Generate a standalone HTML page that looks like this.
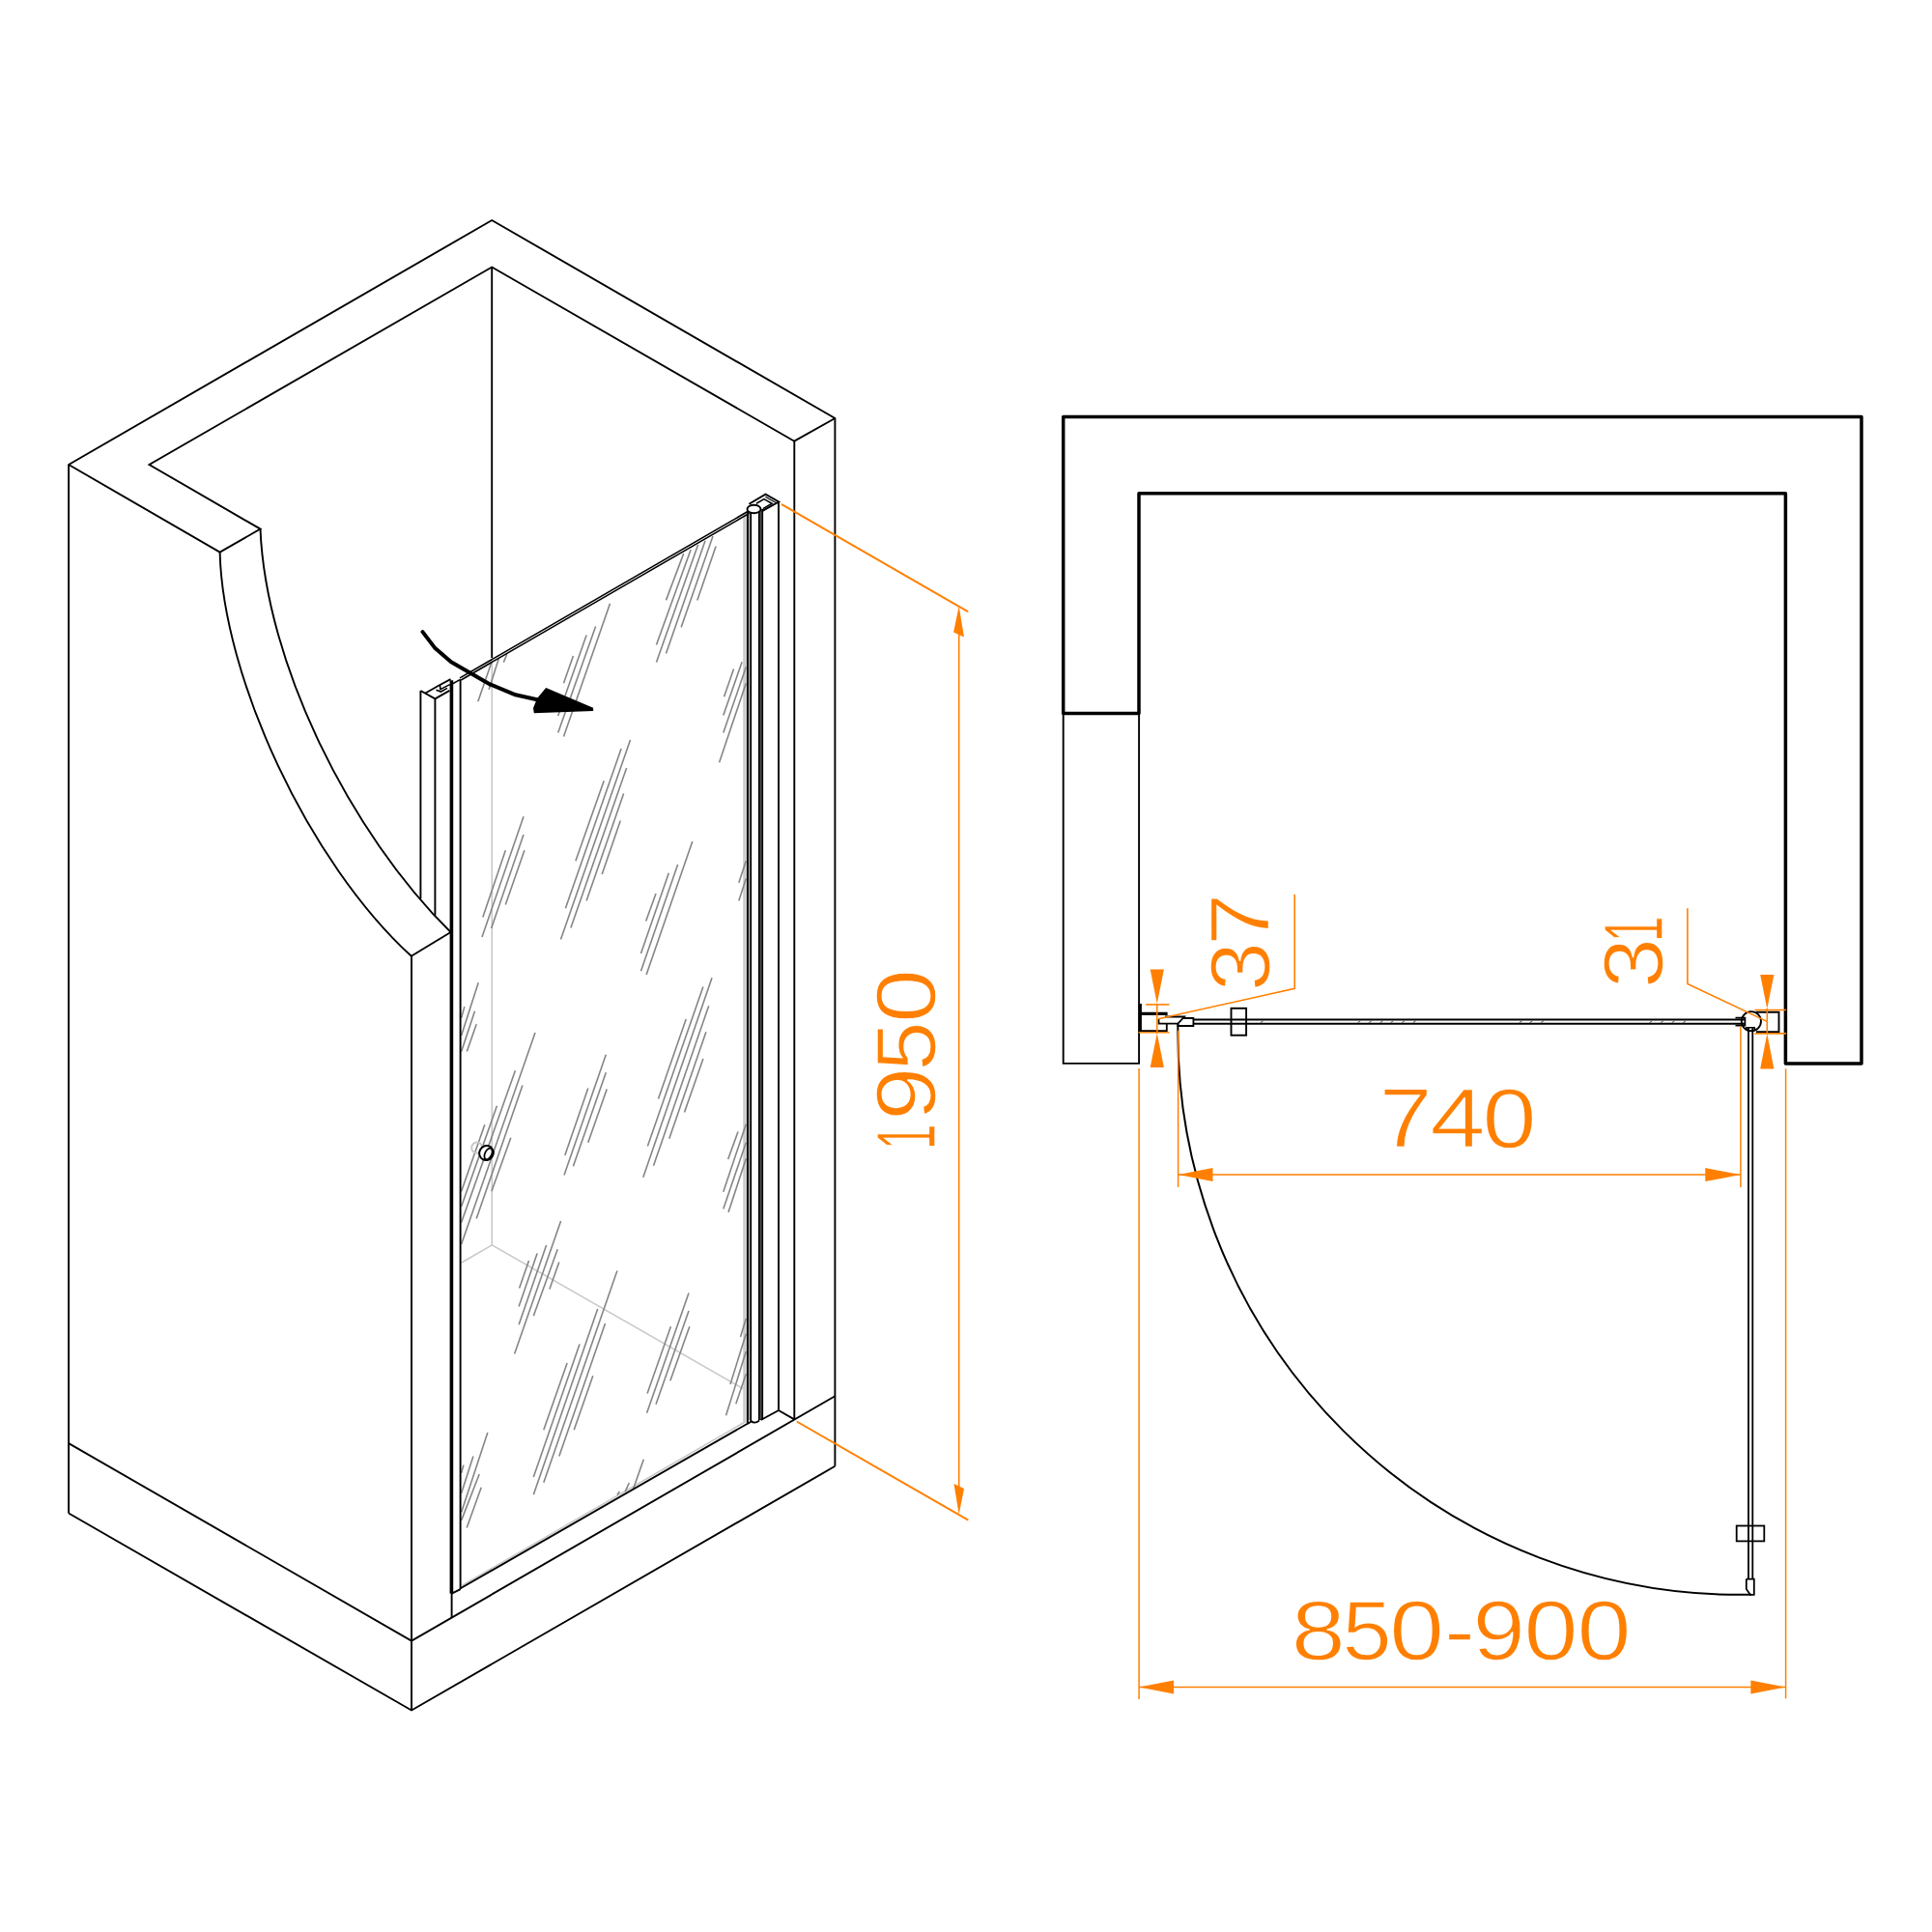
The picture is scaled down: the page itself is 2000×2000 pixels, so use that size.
<!DOCTYPE html>
<html><head><meta charset="utf-8"><style>
html,body{margin:0;padding:0;background:#fff;}
svg{display:block;}
text{font-family:"Liberation Sans",sans-serif;}
</style></head><body>
<svg width="2000" height="2000" viewBox="0 0 2000 2000">
<rect width="2000" height="2000" fill="#fff"/>
<line x1="509.3" y1="681.0" x2="509.3" y2="1288.9" stroke="#c8c8c8" stroke-width="1.6" stroke-linecap="butt"/>
<line x1="509.3" y1="1288.9" x2="477.5" y2="1307.3" stroke="#c8c8c8" stroke-width="1.6" stroke-linecap="butt"/>
<line x1="509.3" y1="1288.9" x2="769.8" y2="1437.9" stroke="#c8c8c8" stroke-width="1.6" stroke-linecap="butt"/>
<line x1="478.0" y1="1641.5" x2="772.0" y2="1471.5" stroke="#c8c8c8" stroke-width="1.6" stroke-linecap="butt"/>
<rect x="769.2" y="531" width="3.7" height="942" fill="#cdcdcd"/>
<line x1="775.8" y1="531.0" x2="775.8" y2="1470.0" stroke="#a0a0a0" stroke-width="1.2" stroke-linecap="butt"/>
<line x1="707.7" y1="573.0" x2="689.5" y2="621.4" stroke="#858585" stroke-width="1.6" stroke-linecap="butt"/>
<line x1="715.1" y1="568.9" x2="679.5" y2="667.4" stroke="#858585" stroke-width="1.6" stroke-linecap="butt"/>
<line x1="722.6" y1="563.9" x2="679.5" y2="685.6" stroke="#858585" stroke-width="1.6" stroke-linecap="butt"/>
<line x1="730.0" y1="559.8" x2="689.5" y2="676.5" stroke="#858585" stroke-width="1.6" stroke-linecap="butt"/>
<line x1="738.0" y1="555.1" x2="705.2" y2="649.2" stroke="#858585" stroke-width="1.6" stroke-linecap="butt"/>
<line x1="741.1" y1="565.5" x2="721.8" y2="621.4" stroke="#858585" stroke-width="1.6" stroke-linecap="butt"/>
<line x1="631.5" y1="624.7" x2="583.5" y2="762.6" stroke="#858585" stroke-width="1.6" stroke-linecap="butt"/>
<line x1="616.6" y1="648.4" x2="577.7" y2="758.5" stroke="#858585" stroke-width="1.6" stroke-linecap="butt"/>
<line x1="607.1" y1="657.5" x2="577.7" y2="741.1" stroke="#858585" stroke-width="1.6" stroke-linecap="butt"/>
<line x1="593.4" y1="679.0" x2="583.5" y2="707.2" stroke="#858585" stroke-width="1.6" stroke-linecap="butt"/>
<line x1="524.7" y1="677.4" x2="521.3" y2="685.6" stroke="#858585" stroke-width="1.6" stroke-linecap="butt"/>
<line x1="516.4" y1="681.5" x2="506.1" y2="713.8" stroke="#858585" stroke-width="1.6" stroke-linecap="butt"/>
<line x1="508.9" y1="685.6" x2="494.8" y2="726.2" stroke="#858585" stroke-width="1.6" stroke-linecap="butt"/>
<line x1="759.5" y1="692.6" x2="749.6" y2="721.2" stroke="#858585" stroke-width="1.6" stroke-linecap="butt"/>
<line x1="768.1" y1="685.3" x2="748.8" y2="740.6" stroke="#858585" stroke-width="1.6" stroke-linecap="butt"/>
<line x1="772.3" y1="690.6" x2="748.8" y2="758.5" stroke="#858585" stroke-width="1.6" stroke-linecap="butt"/>
<line x1="772.3" y1="707.2" x2="744.6" y2="789.2" stroke="#858585" stroke-width="1.6" stroke-linecap="butt"/>
<line x1="652.5" y1="766.0" x2="580.5" y2="972.5" stroke="#858585" stroke-width="1.6" stroke-linecap="butt"/>
<line x1="643.1" y1="775.1" x2="585.4" y2="940.2" stroke="#858585" stroke-width="1.6" stroke-linecap="butt"/>
<line x1="648.6" y1="795.0" x2="590.9" y2="960.6" stroke="#858585" stroke-width="1.6" stroke-linecap="butt"/>
<line x1="625.2" y1="808.2" x2="595.9" y2="891.3" stroke="#858585" stroke-width="1.6" stroke-linecap="butt"/>
<line x1="645.6" y1="821.5" x2="607.1" y2="932.4" stroke="#858585" stroke-width="1.6" stroke-linecap="butt"/>
<line x1="642.3" y1="849.6" x2="623.2" y2="905.1" stroke="#858585" stroke-width="1.6" stroke-linecap="butt"/>
<line x1="542.0" y1="845.3" x2="499.0" y2="970.0" stroke="#858585" stroke-width="1.6" stroke-linecap="butt"/>
<line x1="523.3" y1="880.2" x2="499.8" y2="949.6" stroke="#858585" stroke-width="1.6" stroke-linecap="butt"/>
<line x1="542.0" y1="864.0" x2="508.6" y2="960.9" stroke="#858585" stroke-width="1.6" stroke-linecap="butt"/>
<line x1="542.9" y1="880.2" x2="523.3" y2="936.4" stroke="#858585" stroke-width="1.6" stroke-linecap="butt"/>
<line x1="716.8" y1="871.0" x2="669.1" y2="1008.9" stroke="#858585" stroke-width="1.6" stroke-linecap="butt"/>
<line x1="701.6" y1="895.0" x2="663.5" y2="1005.3" stroke="#858585" stroke-width="1.6" stroke-linecap="butt"/>
<line x1="692.3" y1="903.8" x2="663.5" y2="987.1" stroke="#858585" stroke-width="1.6" stroke-linecap="butt"/>
<line x1="679.0" y1="925.0" x2="668.7" y2="953.5" stroke="#858585" stroke-width="1.6" stroke-linecap="butt"/>
<line x1="772.3" y1="891.3" x2="764.8" y2="913.7" stroke="#858585" stroke-width="1.6" stroke-linecap="butt"/>
<line x1="772.3" y1="909.6" x2="764.8" y2="932.4" stroke="#858585" stroke-width="1.6" stroke-linecap="butt"/>
<line x1="495.2" y1="1017.2" x2="477.6" y2="1071.9" stroke="#858585" stroke-width="1.6" stroke-linecap="butt"/>
<line x1="480.8" y1="1042.1" x2="477.6" y2="1053.7" stroke="#858585" stroke-width="1.6" stroke-linecap="butt"/>
<line x1="491.5" y1="1046.7" x2="477.6" y2="1088.4" stroke="#858585" stroke-width="1.6" stroke-linecap="butt"/>
<line x1="493.2" y1="1060.3" x2="483.3" y2="1088.4" stroke="#858585" stroke-width="1.6" stroke-linecap="butt"/>
<line x1="554.0" y1="1069.1" x2="477.6" y2="1288.0" stroke="#858585" stroke-width="1.6" stroke-linecap="butt"/>
<line x1="533.4" y1="1108.3" x2="477.6" y2="1265.6" stroke="#858585" stroke-width="1.6" stroke-linecap="butt"/>
<line x1="540.9" y1="1123.6" x2="493.2" y2="1261.5" stroke="#858585" stroke-width="1.6" stroke-linecap="butt"/>
<line x1="514.4" y1="1144.8" x2="477.6" y2="1249.0" stroke="#858585" stroke-width="1.6" stroke-linecap="butt"/>
<line x1="501.8" y1="1164.3" x2="477.6" y2="1233.3" stroke="#858585" stroke-width="1.6" stroke-linecap="butt"/>
<line x1="528.8" y1="1177.8" x2="508.9" y2="1233.3" stroke="#858585" stroke-width="1.6" stroke-linecap="butt"/>
<line x1="627.3" y1="1091.8" x2="584.0" y2="1216.4" stroke="#858585" stroke-width="1.6" stroke-linecap="butt"/>
<line x1="608.8" y1="1126.5" x2="584.8" y2="1196.1" stroke="#858585" stroke-width="1.6" stroke-linecap="butt"/>
<line x1="627.3" y1="1110.3" x2="593.4" y2="1207.3" stroke="#858585" stroke-width="1.6" stroke-linecap="butt"/>
<line x1="628.2" y1="1127.4" x2="608.8" y2="1182.8" stroke="#858585" stroke-width="1.6" stroke-linecap="butt"/>
<line x1="737.0" y1="1012.3" x2="665.8" y2="1218.8" stroke="#858585" stroke-width="1.6" stroke-linecap="butt"/>
<line x1="727.9" y1="1021.4" x2="670.4" y2="1186.6" stroke="#858585" stroke-width="1.6" stroke-linecap="butt"/>
<line x1="733.7" y1="1041.2" x2="676.5" y2="1206.8" stroke="#858585" stroke-width="1.6" stroke-linecap="butt"/>
<line x1="730.9" y1="1068.2" x2="692.8" y2="1178.7" stroke="#858585" stroke-width="1.6" stroke-linecap="butt"/>
<line x1="710.2" y1="1055.0" x2="681.5" y2="1137.6" stroke="#858585" stroke-width="1.6" stroke-linecap="butt"/>
<line x1="727.9" y1="1095.9" x2="708.5" y2="1151.4" stroke="#858585" stroke-width="1.6" stroke-linecap="butt"/>
<line x1="764.0" y1="1171.6" x2="753.7" y2="1199.9" stroke="#858585" stroke-width="1.6" stroke-linecap="butt"/>
<line x1="772.3" y1="1163.8" x2="748.8" y2="1233.8" stroke="#858585" stroke-width="1.6" stroke-linecap="butt"/>
<line x1="772.3" y1="1182.8" x2="748.8" y2="1251.6" stroke="#858585" stroke-width="1.6" stroke-linecap="butt"/>
<line x1="772.3" y1="1199.4" x2="754.0" y2="1254.9" stroke="#858585" stroke-width="1.6" stroke-linecap="butt"/>
<line x1="547.5" y1="1305.1" x2="537.6" y2="1333.6" stroke="#858585" stroke-width="1.6" stroke-linecap="butt"/>
<line x1="556.1" y1="1297.6" x2="537.1" y2="1352.6" stroke="#858585" stroke-width="1.6" stroke-linecap="butt"/>
<line x1="565.6" y1="1288.9" x2="537.1" y2="1371.3" stroke="#858585" stroke-width="1.6" stroke-linecap="butt"/>
<line x1="580.6" y1="1264.0" x2="532.6" y2="1401.5" stroke="#858585" stroke-width="1.6" stroke-linecap="butt"/>
<line x1="577.2" y1="1293.3" x2="552.3" y2="1362.2" stroke="#858585" stroke-width="1.6" stroke-linecap="butt"/>
<line x1="578.8" y1="1306.6" x2="568.9" y2="1334.4" stroke="#858585" stroke-width="1.6" stroke-linecap="butt"/>
<line x1="638.9" y1="1315.4" x2="562.8" y2="1534.8" stroke="#858585" stroke-width="1.6" stroke-linecap="butt"/>
<line x1="618.7" y1="1355.1" x2="552.3" y2="1547.3" stroke="#858585" stroke-width="1.6" stroke-linecap="butt"/>
<line x1="626.5" y1="1370.0" x2="578.8" y2="1507.5" stroke="#858585" stroke-width="1.6" stroke-linecap="butt"/>
<line x1="600.0" y1="1391.6" x2="552.3" y2="1529.0" stroke="#858585" stroke-width="1.6" stroke-linecap="butt"/>
<line x1="587.1" y1="1411.1" x2="562.8" y2="1480.2" stroke="#858585" stroke-width="1.6" stroke-linecap="butt"/>
<line x1="613.8" y1="1424.3" x2="594.2" y2="1480.2" stroke="#858585" stroke-width="1.6" stroke-linecap="butt"/>
<line x1="713.0" y1="1338.6" x2="669.6" y2="1462.8" stroke="#858585" stroke-width="1.6" stroke-linecap="butt"/>
<line x1="694.4" y1="1373.3" x2="670.1" y2="1442.4" stroke="#858585" stroke-width="1.6" stroke-linecap="butt"/>
<line x1="713.0" y1="1357.1" x2="679.0" y2="1453.7" stroke="#858585" stroke-width="1.6" stroke-linecap="butt"/>
<line x1="713.8" y1="1373.3" x2="693.9" y2="1429.2" stroke="#858585" stroke-width="1.6" stroke-linecap="butt"/>
<line x1="772.3" y1="1365.0" x2="766.5" y2="1384.1" stroke="#858585" stroke-width="1.6" stroke-linecap="butt"/>
<line x1="772.3" y1="1380.8" x2="756.0" y2="1433.0" stroke="#858585" stroke-width="1.6" stroke-linecap="butt"/>
<line x1="772.3" y1="1399.0" x2="751.6" y2="1465.3" stroke="#858585" stroke-width="1.6" stroke-linecap="butt"/>
<line x1="772.3" y1="1422.2" x2="761.8" y2="1453.3" stroke="#858585" stroke-width="1.6" stroke-linecap="butt"/>
<line x1="504.8" y1="1483.0" x2="477.6" y2="1565.6" stroke="#858585" stroke-width="1.6" stroke-linecap="butt"/>
<line x1="489.9" y1="1507.5" x2="477.6" y2="1545.8" stroke="#858585" stroke-width="1.6" stroke-linecap="butt"/>
<line x1="496.2" y1="1526.0" x2="477.6" y2="1573.9" stroke="#858585" stroke-width="1.6" stroke-linecap="butt"/>
<line x1="498.2" y1="1539.8" x2="483.2" y2="1581.4" stroke="#858585" stroke-width="1.6" stroke-linecap="butt"/>
<line x1="479.9" y1="1516.6" x2="477.6" y2="1524.9" stroke="#858585" stroke-width="1.6" stroke-linecap="butt"/>
<line x1="666.3" y1="1510.8" x2="655.5" y2="1541.5" stroke="#858585" stroke-width="1.6" stroke-linecap="butt"/>
<line x1="651.3" y1="1535.0" x2="647.2" y2="1544.1" stroke="#858585" stroke-width="1.6" stroke-linecap="butt"/>
<line x1="641.4" y1="1544.1" x2="638.9" y2="1547.4" stroke="#858585" stroke-width="1.6" stroke-linecap="butt"/>
<path d="M71.1,1566.5 L71.1,481.0 L509.2,228.0 L864.4,433.0 L864.4,1517.8" fill="none" stroke="#000" stroke-width="1.9" stroke-linejoin="miter"/>
<path d="M71.1,481.0 L227.6,571.6 L269.5,547.6 L154.5,481.0 L509.2,276.5 L822.3,456.7 L864.4,433.0" fill="none" stroke="#000" stroke-width="1.9" stroke-linejoin="miter"/>
<line x1="509.2" y1="276.5" x2="509.2" y2="681.0" stroke="#000" stroke-width="1.9" stroke-linecap="butt"/>
<line x1="822.3" y1="456.7" x2="822.3" y2="1469.4" stroke="#000" stroke-width="1.9" stroke-linecap="butt"/>
<path d="M71.1,1494.1 L426.0,1698.6 L864.4,1445.3" fill="none" stroke="#000" stroke-width="1.9" stroke-linejoin="miter"/>
<path d="M71.1,1566.5 L426.0,1770.5 L864.4,1517.8" fill="none" stroke="#000" stroke-width="1.9" stroke-linejoin="miter"/>
<line x1="426.0" y1="989.8" x2="426.0" y2="1770.5" stroke="#000" stroke-width="1.9" stroke-linecap="butt"/>
<path d="M227.6,571.6 C230.7,700.9 319.1,892.2 425.8,989.8" fill="none" stroke="#000" stroke-width="1.9"/>
<path d="M269.5,547.6 C275.2,686.6 362.3,862.1 466.6,965.0" fill="none" stroke="#000" stroke-width="1.9"/>
<line x1="425.8" y1="989.8" x2="466.6" y2="965.0" stroke="#000" stroke-width="1.9" stroke-linecap="butt"/>
<line x1="435.4" y1="715.0" x2="435.4" y2="930.5" stroke="#000" stroke-width="1.9" stroke-linecap="butt"/>
<line x1="450.4" y1="723.3" x2="450.4" y2="947.5" stroke="#000" stroke-width="1.9" stroke-linecap="butt"/>
<path d="M435.4,715.0 L450.4,723.3 L465.4,714.8" fill="none" stroke="#000" stroke-width="1.9" stroke-linejoin="miter"/>
<path d="M440.4,717.5 L455.4,709.0 L466.5,703.2" fill="none" stroke="#000" stroke-width="1.9" stroke-linejoin="miter"/>
<path d="M455.4,709.0 L455.9,713.6 L465.5,708.6" fill="none" stroke="#000" stroke-width="1.6" stroke-linejoin="miter"/>
<path d="M451.5,714.2 L456.4,716.0 L463.0,712.4" fill="none" stroke="#000" stroke-width="1.6" stroke-linejoin="miter"/>
<line x1="467.4" y1="704.3" x2="467.4" y2="1649.7" stroke="#000" stroke-width="3.6" stroke-linecap="butt"/>
<line x1="467.6" y1="1649.7" x2="467.6" y2="1674.5" stroke="#000" stroke-width="1.9" stroke-linecap="butt"/>
<line x1="476.6" y1="703.6" x2="476.6" y2="1645.1" stroke="#000" stroke-width="1.9" stroke-linecap="butt"/>
<line x1="467.6" y1="1649.7" x2="476.7" y2="1645.1" stroke="#000" stroke-width="1.9" stroke-linecap="butt"/>
<line x1="476.7" y1="1644.3" x2="774.7" y2="1473.2" stroke="#000" stroke-width="1.9" stroke-linecap="butt"/>
<line x1="477.2" y1="704.0" x2="775.6" y2="531.4" stroke="#000" stroke-width="1.6" stroke-linecap="butt"/>
<line x1="476.0" y1="701.9" x2="774.4" y2="529.3" stroke="#000" stroke-width="1.6" stroke-linecap="butt"/>
<line x1="465.5" y1="709.5" x2="476.6" y2="703.4" stroke="#000" stroke-width="1.6" stroke-linecap="butt"/>
<circle cx="493.8" cy="1188.2" r="5.6" fill="none" stroke="#c8c8c8" stroke-width="2"/>
<ellipse cx="503.5" cy="1193.5" rx="7.2" ry="7.6" transform="rotate(30 503.5 1193.5)" fill="#fff" stroke="#000" stroke-width="2"/>
<ellipse cx="505.5" cy="1194.5" rx="3.5" ry="6.2" transform="rotate(25 505.5 1194.5)" fill="none" stroke="#000" stroke-width="1.8"/>
<line x1="774.0" y1="528.5" x2="774.0" y2="1473.2" stroke="#000" stroke-width="1.9" stroke-linecap="butt"/>
<line x1="777.2" y1="531.0" x2="777.2" y2="1471.5" stroke="#000" stroke-width="1.8" stroke-linecap="butt"/>
<rect x="786.6" y="527" width="2" height="943" fill="#4a4a4a"/>
<line x1="785.9" y1="527.0" x2="785.9" y2="1470.0" stroke="#000" stroke-width="1.8" stroke-linecap="butt"/>
<line x1="789.2" y1="527.0" x2="789.2" y2="1470.0" stroke="#000" stroke-width="1.8" stroke-linecap="butt"/>
<line x1="806.0" y1="519.5" x2="806.0" y2="1460.0" stroke="#000" stroke-width="1.9" stroke-linecap="butt"/>
<line x1="806.0" y1="1460.0" x2="822.3" y2="1469.4" stroke="#000" stroke-width="1.9" stroke-linecap="butt"/>
<line x1="787.6" y1="1470.0" x2="806.0" y2="1460.0" stroke="#000" stroke-width="1.9" stroke-linecap="butt"/>
<line x1="774.2" y1="1473.8" x2="777.4" y2="1471.8" stroke="#000" stroke-width="1.9" stroke-linecap="butt"/>
<path d="M777.3,1471 Q781.3,1474.6 786.2,1470.4" fill="none" stroke="#000" stroke-width="1.8"/>
<path d="M775.4,521.7 L792.5,511.7 L806.2,519.5 L789.3,528.8" fill="none" stroke="#000" stroke-width="1.9" stroke-linejoin="miter"/>
<path d="M792.3,514.3 L804.2,521.0" fill="none" stroke="#000" stroke-width="1.3" stroke-linejoin="miter"/>
<path d="M783.0,521.2 L790.9,516.6 L799.2,521.3 L789.8,526.6" fill="none" stroke="#000" stroke-width="1.6" stroke-linejoin="miter"/>
<ellipse cx="780.5" cy="527" rx="7" ry="4.3" fill="#fff" stroke="#000" stroke-width="1.9"/>
<path d="M437.5,654.1 L449.9,670.4 L467,685.2 L507.3,708.4 L533.7,719.3 L556,724.3" fill="none" stroke="#000" stroke-width="4" stroke-linecap="round" stroke-linejoin="round"/>
<path d="M565.2,712.1 L614.1,732.8 L614.1,736.1 L552.8,738.3 L552.0,733.0 L556.0,723.0 Z" fill="#000" stroke="none"/>
<line x1="809.7" y1="522.3" x2="1001.5" y2="632.8" stroke="#ff8000" stroke-width="2" stroke-linecap="round"/>
<line x1="825.6" y1="1472.0" x2="1001.5" y2="1573.2" stroke="#ff8000" stroke-width="2" stroke-linecap="round"/>
<line x1="992.7" y1="640.0" x2="992.7" y2="1555.0" stroke="#ff8000" stroke-width="1.6" stroke-linecap="butt"/>
<path d="M992.7,627.4 L998.0,659.6 L987.1,654.5 Z" fill="#ff8000" stroke="none"/>
<path d="M992.7,1567.7 L987.5,1535.9 L998.0,1540.9 Z" fill="#ff8000" stroke="none"/>
<path d="M1100.7,738.5 L1100.7,431.5 L1927.0,431.5 L1927.0,1101.0 L1848.4,1101.0 L1848.4,510.7 L1179.0,510.7 L1179.0,738.5 L1100.7,738.5 Z" fill="none" stroke="#000" stroke-width="3.5" stroke-linejoin="round"/>
<path d="M1100.7,738.5 L1100.7,1100.9 L1179.1,1100.9 L1179.1,738.5" fill="none" stroke="#000" stroke-width="1.9" stroke-linejoin="miter"/>
<path d="M1208.6,1049.3 L1180.3,1049.3 L1180.3,1039.1 L1180.3,1068.0" fill="none" stroke="#000" stroke-width="3.2" stroke-linejoin="miter"/>
<path d="M1180.3,1067.2 L1207.8,1067.2 L1207.8,1059.0" fill="none" stroke="#000" stroke-width="1.8" stroke-linejoin="miter"/>
<path d="M1199.5,1055.0 L1199.5,1059.6 L1219.4,1059.6 L1226.0,1052.5 L1206.0,1052.5" fill="none" stroke="#000" stroke-width="1.8" stroke-linejoin="miter"/>
<path d="M1219.4,1059.6 L1219.4,1062.0 L1235.4,1062.0 L1235.4,1054.0 L1224.0,1054.0" fill="none" stroke="#000" stroke-width="1.8" stroke-linejoin="miter"/>
<line x1="1235.4" y1="1055.5" x2="1806.4" y2="1055.5" stroke="#000" stroke-width="2.0" stroke-linecap="butt"/>
<line x1="1235.4" y1="1059.8" x2="1806.4" y2="1059.8" stroke="#000" stroke-width="2.0" stroke-linecap="butt"/>
<line x1="1307.7" y1="1056.4" x2="1304.9" y2="1058.9" stroke="#666" stroke-width="1.1" stroke-linecap="butt"/>
<line x1="1408.4" y1="1056.4" x2="1405.6" y2="1058.9" stroke="#666" stroke-width="1.1" stroke-linecap="butt"/>
<line x1="1420.0" y1="1056.4" x2="1417.2" y2="1058.9" stroke="#666" stroke-width="1.1" stroke-linecap="butt"/>
<line x1="1431.6" y1="1056.4" x2="1428.8" y2="1058.9" stroke="#666" stroke-width="1.1" stroke-linecap="butt"/>
<line x1="1442.5" y1="1056.4" x2="1439.7" y2="1058.9" stroke="#666" stroke-width="1.1" stroke-linecap="butt"/>
<line x1="1454.1" y1="1056.4" x2="1451.3" y2="1058.9" stroke="#666" stroke-width="1.1" stroke-linecap="butt"/>
<line x1="1465.7" y1="1056.4" x2="1462.9" y2="1058.9" stroke="#666" stroke-width="1.1" stroke-linecap="butt"/>
<line x1="1575.7" y1="1056.4" x2="1572.9" y2="1058.9" stroke="#666" stroke-width="1.1" stroke-linecap="butt"/>
<line x1="1586.5" y1="1056.4" x2="1583.7" y2="1058.9" stroke="#666" stroke-width="1.1" stroke-linecap="butt"/>
<line x1="1598.1" y1="1056.4" x2="1595.3" y2="1058.9" stroke="#666" stroke-width="1.1" stroke-linecap="butt"/>
<line x1="1710.4" y1="1056.4" x2="1707.6" y2="1058.9" stroke="#666" stroke-width="1.1" stroke-linecap="butt"/>
<line x1="1722.0" y1="1056.4" x2="1719.2" y2="1058.9" stroke="#666" stroke-width="1.1" stroke-linecap="butt"/>
<line x1="1733.6" y1="1056.4" x2="1730.8" y2="1058.9" stroke="#666" stroke-width="1.1" stroke-linecap="butt"/>
<line x1="1745.2" y1="1056.4" x2="1742.4" y2="1058.9" stroke="#666" stroke-width="1.1" stroke-linecap="butt"/>
<rect x="1274.5" y="1043.8" width="15.6" height="27.9" fill="none" stroke="#000" stroke-width="1.9"/>
<circle cx="1812.9" cy="1057.2" r="10.1" fill="none" stroke="#000" stroke-width="1.9"/>
<path d="M1818.0,1047.8 L1841.5,1047.8 L1841.5,1068.1 L1818.0,1068.1" fill="none" stroke="#000" stroke-width="1.9" stroke-linejoin="miter"/>
<path d="M1796.5,1053.6 L1806.4,1053.6 L1806.4,1061.6 L1796.5,1061.6" fill="none" stroke="#000" stroke-width="1.8" stroke-linejoin="miter"/>
<line x1="1810.0" y1="1063.5" x2="1810.0" y2="1634.6" stroke="#000" stroke-width="1.8" stroke-linecap="butt"/>
<line x1="1814.3" y1="1063.5" x2="1814.3" y2="1634.6" stroke="#000" stroke-width="1.8" stroke-linecap="butt"/>
<path d="M1807.8,1066.0 L1807.8,1063.8 L1816.3,1063.8 L1816.3,1066.0" fill="none" stroke="#000" stroke-width="1.6" stroke-linejoin="miter"/>
<rect x="1797.7" y="1579.5" width="28.6" height="15.9" fill="none" stroke="#000" stroke-width="1.8"/>
<path d="M1807.8,1634.6 L1815.8,1634.6 L1815.8,1650.9 L1812.0,1650.9 L1807.8,1645.0 L1807.8,1634.6" fill="none" stroke="#000" stroke-width="1.8" stroke-linejoin="miter"/>
<path d="M1219.4,1060.1 A582,582 0 0 0 1813,1650.7" fill="none" stroke="#000" stroke-width="2"/>
<path d="M1197.8,1039.1 L1190.7,1003.6 L1204.9,1003.6 Z" fill="#ff8000" stroke="none"/>
<path d="M1197.8,1069.6 L1190.7,1105.1 L1204.9,1105.1 Z" fill="#ff8000" stroke="none"/>
<line x1="1197.8" y1="1039.0" x2="1197.8" y2="1070.0" stroke="#ff8000" stroke-width="1.5" stroke-linecap="butt"/>
<line x1="1186.1" y1="1039.9" x2="1210.4" y2="1039.9" stroke="#ff8000" stroke-width="1.6" stroke-linecap="butt"/>
<line x1="1178.5" y1="1068.8" x2="1210.4" y2="1068.8" stroke="#ff8000" stroke-width="1.6" stroke-linecap="butt"/>
<path d="M1199.1,1054.7 L1340.2,1023.4 L1340.2,926.1" fill="none" stroke="#ff8000" stroke-width="1.6" stroke-linejoin="miter"/>
<path d="M1829.3,1044.2 L1822.2,1009.1 L1836.4,1009.1 Z" fill="#ff8000" stroke="none"/>
<path d="M1829.3,1069.9 L1822.2,1106.5 L1836.4,1106.5 Z" fill="#ff8000" stroke="none"/>
<line x1="1829.3" y1="1044.0" x2="1829.3" y2="1070.0" stroke="#ff8000" stroke-width="1.5" stroke-linecap="butt"/>
<line x1="1816.5" y1="1045.5" x2="1849.1" y2="1045.5" stroke="#ff8000" stroke-width="1.6" stroke-linecap="butt"/>
<line x1="1816.5" y1="1069.9" x2="1849.1" y2="1069.9" stroke="#ff8000" stroke-width="1.6" stroke-linecap="butt"/>
<path d="M1746.9,940.2 L1746.9,1018.5 L1829.6,1057.6" fill="none" stroke="#ff8000" stroke-width="1.6" stroke-linejoin="miter"/>
<line x1="1219.6" y1="1066.7" x2="1219.6" y2="1228.9" stroke="#ff8000" stroke-width="1.5" stroke-linecap="butt"/>
<line x1="1801.9" y1="1062.3" x2="1801.9" y2="1228.9" stroke="#ff8000" stroke-width="1.5" stroke-linecap="butt"/>
<line x1="1219.6" y1="1216.1" x2="1801.9" y2="1216.1" stroke="#ff8000" stroke-width="1.5" stroke-linecap="butt"/>
<path d="M1219.6,1216.1 L1255.5,1209.1 L1255.5,1223.1 Z" fill="#ff8000" stroke="none"/>
<path d="M1801.9,1216.1 L1765.3,1209.1 L1765.3,1223.1 Z" fill="#ff8000" stroke="none"/>
<line x1="1179.1" y1="1106.1" x2="1179.1" y2="1759.0" stroke="#ff8000" stroke-width="1.5" stroke-linecap="butt"/>
<line x1="1848.6" y1="1106.2" x2="1848.6" y2="1758.2" stroke="#ff8000" stroke-width="1.5" stroke-linecap="butt"/>
<line x1="1179.1" y1="1746.5" x2="1848.6" y2="1746.5" stroke="#ff8000" stroke-width="1.5" stroke-linecap="butt"/>
<path d="M1179.1,1746.5 L1215.0,1739.5 L1215.0,1753.5 Z" fill="#ff8000" stroke="none"/>
<path d="M1848.6,1746.5 L1812.4,1739.5 L1812.4,1753.5 Z" fill="#ff8000" stroke="none"/>
<text x="0" y="0" transform="translate(1336.67 1718.10) scale(1.1646 1)" font-family="Liberation Sans" font-size="86.4" fill="#ff8000" stroke="#fff" stroke-width="1.3">8</text>
<text x="0" y="0" transform="translate(1389.52 1718.10) scale(1.0665 1)" font-family="Liberation Sans" font-size="86.4" fill="#ff8000" stroke="#fff" stroke-width="1.3">5</text>
<text x="0" y="0" transform="translate(1438.35 1718.10) scale(1.1800 1)" font-family="Liberation Sans" font-size="86.4" fill="#ff8000" stroke="#fff" stroke-width="1.3">0</text>
<text x="0" y="0" transform="translate(1495.18 1718.10) scale(1.0963 1)" font-family="Liberation Sans" font-size="86.4" fill="#ff8000" stroke="#fff" stroke-width="1.3">-</text>
<text x="0" y="0" transform="translate(1524.38 1718.10) scale(1.1318 1)" font-family="Liberation Sans" font-size="86.4" fill="#ff8000" stroke="#fff" stroke-width="1.3">9</text>
<text x="0" y="0" transform="translate(1577.60 1718.10) scale(1.1675 1)" font-family="Liberation Sans" font-size="86.4" fill="#ff8000" stroke="#fff" stroke-width="1.3">0</text>
<text x="0" y="0" transform="translate(1632.60 1718.10) scale(1.1675 1)" font-family="Liberation Sans" font-size="86.4" fill="#ff8000" stroke="#fff" stroke-width="1.3">0</text>
<text x="0" y="0" transform="translate(1427.72 1188.45) scale(1.1267 1)" font-family="Liberation Sans" font-size="87.4" fill="#ff8000" stroke="#fff" stroke-width="1.3">7</text>
<text x="0" y="0" transform="translate(1480.26 1188.45) scale(1.1815 1)" font-family="Liberation Sans" font-size="87.4" fill="#ff8000" stroke="#fff" stroke-width="1.3">4</text>
<text x="0" y="0" transform="translate(1534.61 1188.45) scale(1.1537 1)" font-family="Liberation Sans" font-size="87.4" fill="#ff8000" stroke="#fff" stroke-width="1.3">0</text>
<text x="0" y="0" transform="translate(967.50 1190.06) rotate(-90) scale(0.5493 1)" font-family="Liberation Sans" font-size="86.2" fill="#ff8000" stroke="#fff" stroke-width="1.3">1</text>
<text x="0" y="0" transform="translate(967.50 1159.92) rotate(-90) scale(1.1553 1)" font-family="Liberation Sans" font-size="86.2" fill="#ff8000" stroke="#fff" stroke-width="1.3">9</text>
<text x="0" y="0" transform="translate(967.50 1108.47) rotate(-90) scale(1.0665 1)" font-family="Liberation Sans" font-size="86.2" fill="#ff8000" stroke="#fff" stroke-width="1.3">5</text>
<text x="0" y="0" transform="translate(967.50 1058.98) rotate(-90) scale(1.1652 1)" font-family="Liberation Sans" font-size="86.2" fill="#ff8000" stroke="#fff" stroke-width="1.3">0</text>
<text x="0" y="0" transform="translate(1313.95 1026.05) rotate(-90) scale(1.0451 1)" font-family="Liberation Sans" font-size="87.1" fill="#ff8000" stroke="#fff" stroke-width="1.3">3</text>
<text x="0" y="0" transform="translate(1313.95 978.93) rotate(-90) scale(1.1203 1)" font-family="Liberation Sans" font-size="87.1" fill="#ff8000" stroke="#fff" stroke-width="1.3">7</text>
<text x="0" y="0" transform="translate(1720.65 1023.04) rotate(-90) scale(1.0676 1)" font-family="Liberation Sans" font-size="87.1" fill="#ff8000" stroke="#fff" stroke-width="1.3">3</text>
<text x="0" y="0" transform="translate(1720.65 974.98) rotate(-90) scale(0.5462 1)" font-family="Liberation Sans" font-size="87.1" fill="#ff8000" stroke="#fff" stroke-width="1.3">1</text>
</svg>
</body></html>
